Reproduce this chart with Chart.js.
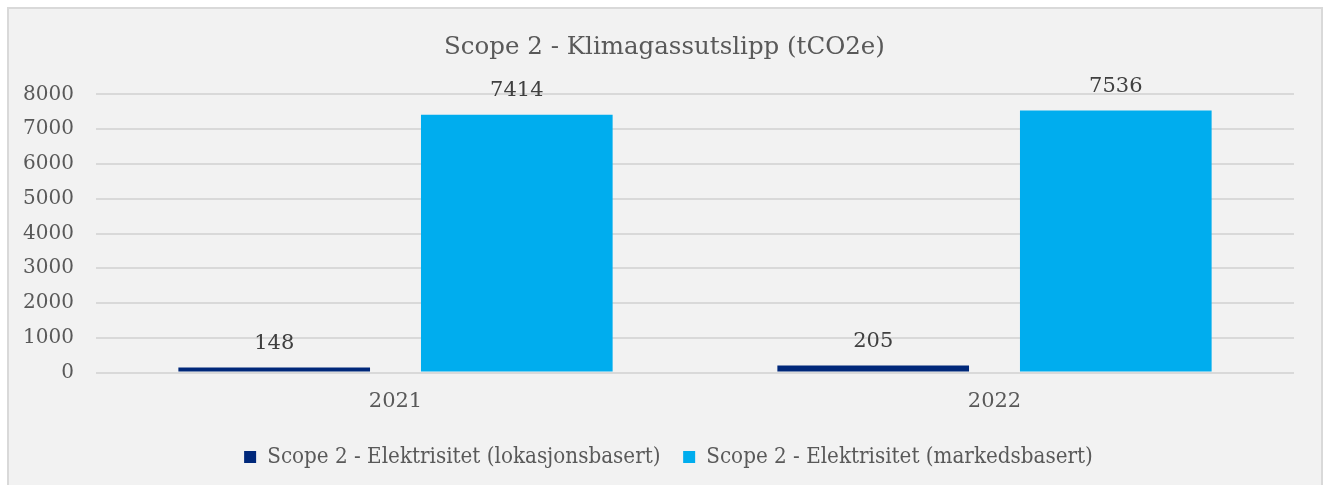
<!DOCTYPE html>
<html>
<head>
<meta charset="utf-8">
<script src="https://cdn.jsdelivr.net/npm/chart.js@4"></script>
<style>
  html, body { margin: 0; padding: 0; background: #ffffff; }
  #wrap { position: absolute; left: 0; top: 0; width: 1325px; height: 485px; }
</style>
</head>
<body>
<div id="wrap"><canvas id="myChart" width="1325" height="485"></canvas></div>
<script>
const years = ['2021', '2022'];
const lokasjonsbasert = [148, 205];
const markedsbasert = [7414, 7536];
const seriesNames = ['Scope 2 - Elektrisitet (lokasjonsbasert)', 'Scope 2 - Elektrisitet (markedsbasert)'];
const chartTitle = 'Scope 2 - Klimagassutslipp (tCO2e)';

const serif = "'DejaVu Serif', 'Liberation Serif', serif";

// grey panel with a thin frame, like the spreadsheet chart area
const panel = {
  id: 'panel',
  beforeDraw(chart) {
    const ctx = chart.ctx;
    ctx.save();
    ctx.fillStyle = '#f2f2f2';
    ctx.fillRect(8, 8, 1314, 490);
    ctx.strokeStyle = '#d9d9d9';
    ctx.lineWidth = 2;
    ctx.strokeRect(8, 8, 1314, 490);
    ctx.restore();
  },
  // title and legend are centred on the frame, not on the canvas minus padding
  afterLayout(chart) {
    if (chart.titleBlock) { chart.titleBlock.left += 7; chart.titleBlock.right += 7; }
    if (chart.legend) { chart.legend.left += 11; chart.legend.right += 11; }
  }
};

// value labels above the bars
const valueLabels = {
  id: 'valueLabels',
  afterDatasetsDraw(chart) {
    const ctx = chart.ctx;
    ctx.save();
    ctx.font = '21px ' + serif;
    ctx.fillStyle = '#404040';
    ctx.textAlign = 'center';
    ctx.textBaseline = 'middle';
    chart.data.datasets.forEach((ds, i) => {
      chart.getDatasetMeta(i).data.forEach((bar, j) => {
        ctx.fillText(String(ds.data[j]), bar.x, bar.y - 24);
      });
    });
    ctx.restore();
  }
};

new Chart(document.getElementById('myChart').getContext('2d'), {
  type: 'bar',
  data: {
    labels: years,
    datasets: [{
      label: seriesNames[0],
      data: lokasjonsbasert,
      backgroundColor: '#00287a',
      categoryPercentage: 0.81,
      barPercentage: 0.79
    }, {
      label: seriesNames[1],
      data: markedsbasert,
      backgroundColor: '#00adee',
      categoryPercentage: 0.81,
      barPercentage: 0.79
    }]
  },
  options: {
    responsive: false,
    animation: false,
    layout: { padding: { left: 21, right: 31, top: 33, bottom: 7 } },
    plugins: {
      title: {
        display: true,
        text: chartTitle,
        color: '#595959',
        font: { family: serif, size: 24.5, weight: 'normal' },
        padding: { top: 0, bottom: 32 }
      },
      legend: {
        position: 'bottom',
        labels: {
          color: '#595959',
          font: { family: "'DejaVu Serif Condensed', 'DejaVu Serif', serif", size: 22.2 },
          boxWidth: 12,
          boxHeight: 12,
          padding: 10,
          generateLabels(chart) {
            const items = Chart.defaults.plugins.legend.labels.generateLabels(chart);
            // a wider gap after the first entry
            items[0].text += '  ';
            return items;
          }
        }
      },
      tooltip: { enabled: false }
    },
    scales: {
      x: {
        grid: { display: false, drawTicks: false },
        border: { display: false },
        ticks: { color: '#595959', font: { family: serif, size: 21 }, padding: 16 },
        afterFit(scale) { scale.height += 6; }
      },
      y: {
        min: 0,
        max: 8000,
        ticks: {
          stepSize: 1000,
          color: '#595959',
          font: { family: serif, size: 20 },
          padding: 22,
          callback: (v) => String(v)
        },
        grid: { color: '#d9d9d9', lineWidth: 2, drawTicks: false },
        border: { display: false },
        afterFit(scale) { scale.width = 75; }
      }
    }
  },
  plugins: [panel, valueLabels]
});
</script>
</body>
</html>
